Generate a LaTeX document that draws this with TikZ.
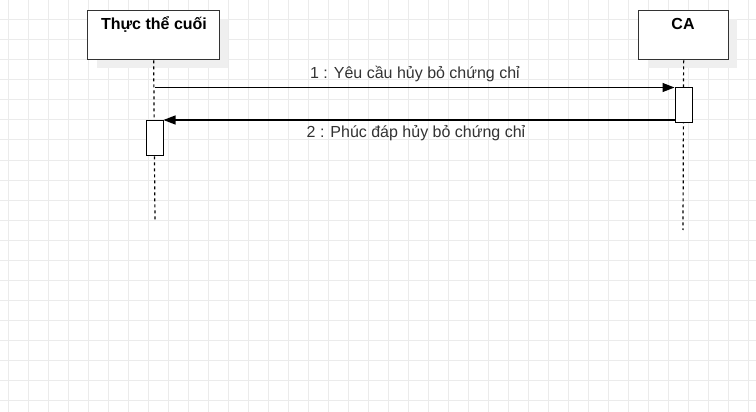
\documentclass[tikz,border=0pt]{standalone}
\usepackage{fontspec}
\setmainfont{Liberation Sans}
\usetikzlibrary{arrows.meta}
\definecolor{gridc}{HTML}{EBEBEB}
\definecolor{shadowc}{HTML}{EFEFEF}
\definecolor{boxc}{HTML}{333333}
\tikzset{
  actor/.style={draw=boxc, fill=white, line width=1.3pt, minimum height=49pt, inner sep=0pt, anchor=north west},
  actorshadow/.style={fill=shadowc, draw=none},
  lifeline/.style={draw=black, line width=1.2pt, dash pattern=on 3pt off 3pt},
  actbox/.style={draw=black, fill=white, line width=1pt, minimum width=17pt, minimum height=35pt, inner sep=0pt, anchor=north west},
  msg/.style={draw=black, line width=1.2pt, -{Triangle[length=12pt,width=9pt]}},
  lbl/.style={font=\fontsize{16pt}{18pt}\selectfont, text=boxc, inner sep=0pt}
}
\begin{document}
\begin{tikzpicture}[x=1pt,y=-1pt]
\useasboundingbox (0,0) rectangle (756,412);
\fill[white] (0,0) rectangle (756,412);
% grid
\foreach \gx in {8,28,...,748} \draw[gridc, line width=1pt] (\gx,0) -- (\gx,412);
\foreach \gy in {0,20,...,412} \draw[gridc, line width=1pt] (0,\gy) -- (756,\gy);
% shadows
\fill[actorshadow] (97,19) rectangle (228,68);
\fill[actorshadow] (648,19) rectangle (737,68);
% lifelines
\coordinate (e1) at (155,220);
\coordinate (e2) at (683,230);
\node[actor, minimum width=132pt] (ee) at (87,10) {};
\node[lbl, font=\fontsize{16pt}{18pt}\selectfont\bfseries, text=black] (eet) at (154,24) {Thực thể cuối};
\node[actor, minimum width=90pt] (ca) at (638,10) {};
\node[lbl, font=\fontsize{16pt}{18pt}\selectfont\bfseries, text=black] (cat) at (683,24) {CA};
\draw[lifeline] (ee.south) -- (e1);
\draw[lifeline] (ca.south) -- (e2);
% activations
\node[actbox] (acta) at (674.5,87.5) {};
\node[actbox] (actb) at (145.5,120) {};
% messages
\coordinate (m1s) at (155,87.5);
\draw[msg] (m1s) -- (acta.north west);
\draw[msg] (acta.west |- actb.north east) -- (actb.north east);
\node[lbl] (l1) at (415,74) {1 : Yêu cầu hủy bỏ chứng chỉ};
\node[lbl] (l2) at (416,133) {2 : Phúc đáp hủy bỏ chứng chỉ};
\end{tikzpicture}
\end{document}
